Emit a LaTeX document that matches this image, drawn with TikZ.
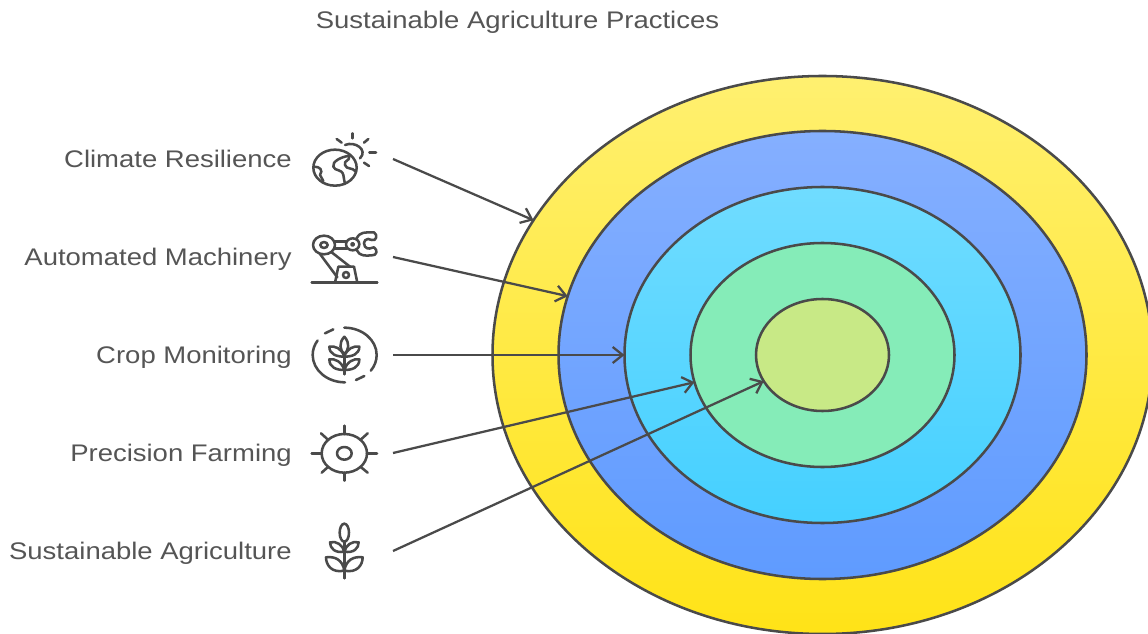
\documentclass[tikz,border=0pt]{standalone}
\usepackage{fontspec}
\setmainfont{Liberation Sans}[FakeStretch=1.145]
\usetikzlibrary{arrows.meta,shapes.geometric}

\begin{document}
\begin{tikzpicture}[x=0.75pt,y=-0.75pt]
    \definecolor{inkgray}{HTML}{4A4A4A}
    \definecolor{textgray}{HTML}{555555}
    \definecolor{yellowtop}{HTML}{FFF070}
    \definecolor{yellowbot}{HTML}{FFE317}
    \definecolor{bluetop}{HTML}{85AFFF}
    \definecolor{bluebot}{HTML}{5F9BFF}
    \definecolor{skytop}{HTML}{70DCFF}
    \definecolor{skybot}{HTML}{45D0FF}
    \definecolor{greenfill}{HTML}{85ECB8}
    \definecolor{limefill}{HTML}{C8E986}
    \tikzset{RingStyle/.style = {draw=inkgray, line width=1.9pt, ellipse, inner sep=0pt, outer sep=0pt}}
    \tikzset{LabelStyle/.style = {anchor=base east, inner sep=0pt, text=textgray, font=\fontsize{18}{22}\selectfont}}
    \tikzset{ArrowStyle/.style = {draw=inkgray, line width=1.7pt, -{Straight Barb[length=7.5pt,width=12pt]}}}
    \tikzset{IconStyle/.style = {shift={#1}, x=0.25pt, y=-0.25pt, draw=inkgray, line width=1.9pt, line cap=round, line join=round}}
    \useasboundingbox (0,0) rectangle (1148,634);
    \node[anchor=base, inner sep=0pt, text=textgray, font=\fontsize{18}{22}\selectfont] (title) at (517.5,28.5) {Sustainable Agriculture Practices};
    \begin{scope}
    \clip (0,0) rectangle (1148,634);
    \node[RingStyle, minimum width=495pt, minimum height=418.5pt, top color=yellowtop, bottom color=yellowbot] (ring1) at (822.5,355) {};
    \end{scope}
    \node[RingStyle, minimum width=396pt, minimum height=336pt, top color=bluetop, bottom color=bluebot] (ring2) at (822.5,355) {};
    \node[RingStyle, minimum width=297pt, minimum height=252pt, top color=skytop, bottom color=skybot] (ring3) at (822.5,355) {};
    \node[RingStyle, minimum width=198pt, minimum height=168pt, fill=greenfill] (ring4) at (822.5,355) {};
    \node[RingStyle, minimum width=99.75pt, minimum height=84pt, fill=limefill] (ring5) at (822.5,355) {};
    \node[LabelStyle] (climate) at (292,167.5) {Climate Resilience};
    \node[LabelStyle] (machinery) at (292,265.5) {Automated Machinery};
    \node[LabelStyle] (monitoring) at (292,363.5) {Crop Monitoring};
    \node[LabelStyle] (precision) at (292,461.5) {Precision Farming};
    \node[LabelStyle] (sustainable) at (292,559.5) {Sustainable Agriculture};
    \coordinate (climateout) at (393,159);
    \coordinate (machineryout) at (393,257);
    \coordinate (monitoringout) at (393,355);
    \coordinate (precisionout) at (393,453);
    \coordinate (sustainableout) at (393,551);
    \draw[ArrowStyle] (climateout) -- (ring1.155.6);
    \draw[ArrowStyle] (machineryout) -- (ring2.167.35);
    \draw[ArrowStyle] (monitoringout) -- (ring3.180);
    \draw[ArrowStyle] (precisionout) -- (ring4.192.4);
    \draw[ArrowStyle] (sustainableout) -- (ring5.204.5);
    \begin{scope}[IconStyle={(300,120)}]
    \draw (105,143) ellipse [x radius=65, y radius=54];
    \draw (135,75) .. controls (165,62) and (205,90) .. (180,115);
    \draw (158,40) -- (158,55);
    \draw (110,57) -- (125,68);
    \draw (205,57) -- (192,68);
    \draw (208,97) -- (228,97);
    \draw (192,128) -- (207,138);
    \draw (145,108) .. controls (125,110) and (95,125) .. (100,140) .. controls (105,155) and (125,145) .. (130,165) .. controls (135,175) and (130,185) .. (135,192);
    \draw (148,108) .. controls (150,125) and (130,120) .. (135,135) .. controls (140,150) and (155,140) .. (168,155);
    \draw (42,140) .. controls (60,140) and (70,150) .. (60,165) -- (70,183);
    \draw (35,488) -- (232,488);
    \draw (105,488) -- (115,440) -- (162,440) -- (172,488);
    \draw (138,465) circle [radius=9];
    \draw (72,375) ellipse [x radius=33, y radius=28];
    \draw (72,375) ellipse [x radius=11, y radius=9];
    \draw (60,402) -- (112,472);
    \draw (95,397) -- (150,440);
    \draw (105,365) -- (140,365);
    \draw (105,385) -- (140,385);
    \draw (158,373) ellipse [x radius=20, y radius=18];
    \draw (158,373) circle [radius=4];
    \draw (170,355) .. controls (180,335) and (195,337) .. (222,337) .. controls (235,345) and (228,365) .. (215,360) .. controls (200,350) and (185,365) .. (195,380) .. controls (205,392) and (215,382) .. (222,382) .. controls (235,390) and (230,408) .. (215,406) .. controls (195,408) and (178,408) .. (170,390);
    \end{scope}
    \begin{scope}[IconStyle={(300,315)}]
    \draw (133,38) arc [start angle=-90, end angle=35, x radius=97, y radius=82];
    \draw (193,183) -- (168,195);
    \draw (135,202) arc [start angle=90, end angle=212, x radius=97, y radius=82];
    \draw (75,55) -- (100,43);
    \draw (133,65) .. controls (115,85) and (120,105) .. (133,118) .. controls (146,105) and (151,85) .. (133,65);
    \draw (133,118) -- (133,178);
    \draw (133,125) .. controls (110,125) and (88,118) .. (88,95) .. controls (105,92) and (125,100) .. (133,125);
    \draw (133,125) .. controls (156,125) and (178,118) .. (178,95) .. controls (161,92) and (141,100) .. (133,125);
    \draw (133,165) .. controls (110,165) and (88,158) .. (88,133) .. controls (105,130) and (125,140) .. (133,165);
    \draw (133,165) .. controls (156,165) and (178,158) .. (178,133) .. controls (161,130) and (141,140) .. (133,165);
    \draw (133,415) ellipse [x radius=68, y radius=58];
    \draw (133,415) ellipse [x radius=22, y radius=19];
    \draw (133,332) -- (133,357);
    \draw (133,473) -- (133,497);
    \draw (35,415) -- (65,415);
    \draw (201,415) -- (231,415);
    \draw (63,355) -- (85,375);
    \draw (203,355) -- (181,375);
    \draw (65,473) -- (85,455);
    \draw (203,473) -- (181,455);
    \end{scope}
    \begin{scope}[IconStyle={(300,510)}]
    \draw (133,68) ellipse [x radius=14, y radius=27];
    \draw (133,95) -- (133,205);
    \draw (133,125) .. controls (105,130) and (90,115) .. (90,97) .. controls (110,92) and (128,105) .. (133,125);
    \draw (133,125) .. controls (161,130) and (176,115) .. (176,97) .. controls (156,92) and (138,105) .. (133,125);
    \draw (133,182) .. controls (95,190) and (78,165) .. (78,142) .. controls (105,138) and (128,150) .. (133,182);
    \draw (133,182) .. controls (171,190) and (188,165) .. (188,142) .. controls (161,138) and (138,150) .. (133,182);
    \end{scope}
\end{tikzpicture}
\end{document}
